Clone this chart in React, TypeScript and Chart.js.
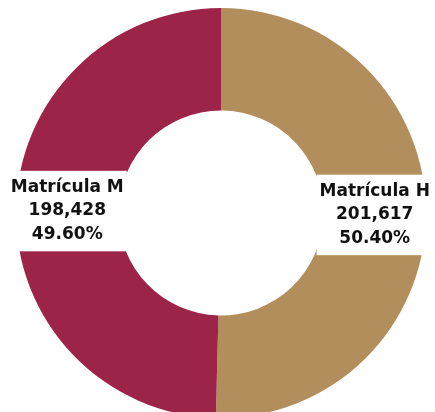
import React, { useEffect, useRef } from "react";
import { Chart, registerables } from "chart.js";

Chart.register(...registerables);

const categories = ["Matrícula H", "Matrícula M"];
const values = [201617, 198428];
const colors = ["#B38E5D", "#9D2449"];

const FONT = "bold 17px 'DejaVu Sans'";
const LINE_H = 23.5;

const labelPlugin = {
  id: "boxLabels",
  afterDatasetsDraw(chart: any) {
    const ctx = chart.ctx;
    const meta = chart.getDatasetMeta(0);
    const data = chart.data.datasets[0].data as number[];
    const total = data.reduce((a, b) => a + b, 0);
    meta.data.forEach((arc: any, i: number) => {
      const pos = arc.tooltipPosition(false);
      const lines = [
        String(chart.data.labels[i]),
        data[i].toLocaleString("en-US"),
        ((data[i] / total) * 100).toFixed(2) + "%",
      ];
      ctx.save();
      ctx.font = FONT;
      const w = Math.max(...lines.map((l) => ctx.measureText(l).width));
      const padX = 3;
      const padY = 5;
      const bw = w + padX * 2;
      const bh = LINE_H * lines.length + padY * 2;
      ctx.fillStyle = "#ffffff";
      ctx.fillRect(pos.x - bw / 2, pos.y - bh / 2, bw, bh);
      ctx.fillStyle = "#111111";
      ctx.textAlign = "center";
      ctx.textBaseline = "middle";
      lines.forEach((l, k) => {
        ctx.fillText(l, pos.x, pos.y + (k - 1) * LINE_H);
      });
      ctx.restore();
    });
  },
};

export default function App() {
  const ref = useRef<HTMLCanvasElement | null>(null);
  useEffect(() => {
    if (!ref.current) return;
    const chart = new Chart(ref.current, {
      type: "doughnut",
      data: {
        labels: categories,
        datasets: [
          {
            data: values,
            backgroundColor: colors,
            borderWidth: 0,
            hoverOffset: 0,
          },
        ],
      },
      options: {
        animation: false,
        responsive: false,
        maintainAspectRatio: false,
        cutout: "50%",
        layout: { padding: 0 },
        plugins: {
          legend: { display: false },
          tooltip: { enabled: false },
          title: { display: false },
        },
      },
      plugins: [labelPlugin],
    });
    return () => chart.destroy();
  }, []);
  return (
    <div
      style={{
        position: "fixed",
        left: 0,
        top: 0,
        width: 435,
        height: 412,
        overflow: "hidden",
        background: "#ffffff",
      }}
    >
      <canvas
        ref={ref}
        width={426}
        height={410}
        style={{ position: "absolute", left: 8, top: 8, width: 426, height: 410 }}
      />
    </div>
  );
}
